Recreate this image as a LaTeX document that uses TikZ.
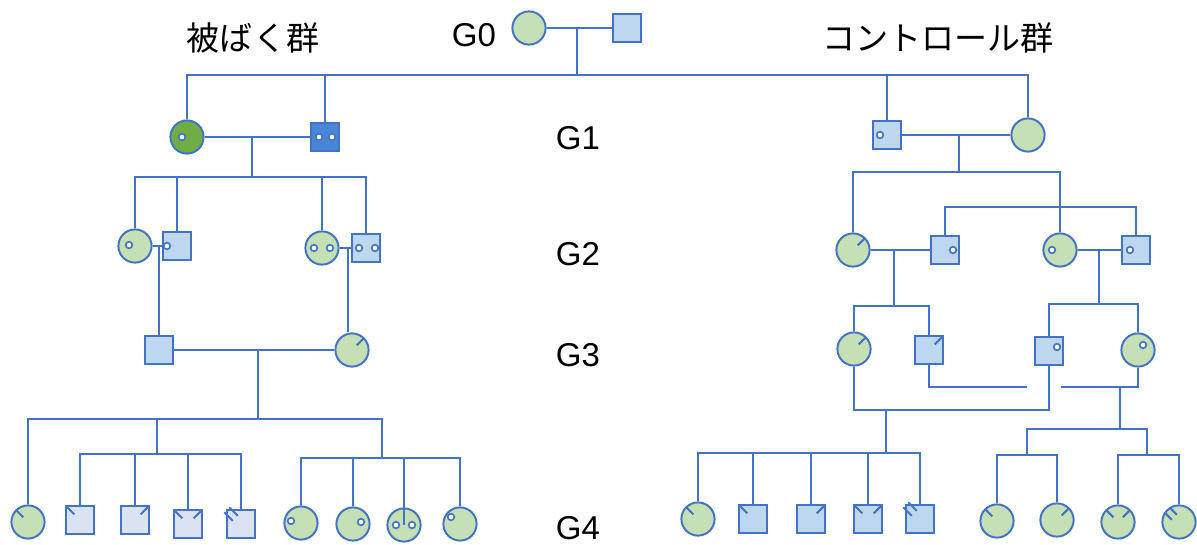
\documentclass[tikz,border=0pt]{standalone}
\usepackage{fontspec}
\setmainfont{Liberation Sans}
\newfontfamily\jpfont{Noto Sans CJK JP}
\usetikzlibrary{calc}

\definecolor{lineblue}{HTML}{4472C4}
\definecolor{ltgreen}{HTML}{C5E0B4}
\definecolor{dkgreen}{HTML}{70AD47}
\definecolor{ltblue}{HTML}{BDD7EE}
\definecolor{paleblue}{HTML}{DAE3F3}
\definecolor{midblue}{HTML}{4A86D8}

% short strokes inside a symbol
\newcommand{\slashL}[1]{\draw[stroke] ($(#1.center)!0.38!(#1.north west)$) -- ($(#1.center)!0.95!(#1.north west)$);}
\newcommand{\slashR}[1]{\draw[stroke] ($(#1.center)!0.38!(#1.north east)$) -- ($(#1.center)!0.95!(#1.north east)$);}
\newcommand{\slashLL}[1]{%
  \draw[stroke] ($(#1.center)!0.38!(#1.north west)+(2.5,-2.5)$) -- ($(#1.center)!0.95!(#1.north west)+(2.5,-2.5)$);
  \draw[stroke] ($(#1.center)!0.38!(#1.north west)+(-2.5,2.5)$) -- ($(#1.center)!0.95!(#1.north west)+(-2.5,2.5)$);}

\begin{document}
\begin{tikzpicture}[
  x = 0.025cm, y = -0.025cm,
  conn/.style = {draw=lineblue, line width=1.4pt},
  stroke/.style = {draw=lineblue, line width=1.5pt},
  fem/.style = {circle, draw=lineblue, fill=ltgreen, line width=1.4pt,
                minimum size=0.83cm, inner sep=0pt},
  mal/.style = {rectangle, draw=lineblue, fill=ltblue, line width=1.4pt,
                minimum size=0.7cm, inner sep=0pt},
  dotc/.style = {draw=lineblue, fill=white, line width=1.2pt},
  lbl/.style = {font=\fontsize{23.5}{28}\selectfont, inner sep=0pt},
  jp/.style = {font=\jpfont\fontsize{23.5}{28}\selectfont, inner sep=0pt},
]

\path[use as bounding box, fill=white] (0,0) rectangle (1197,545);

% labels
\node[jp]  (expo) at ( 253,  38) {被ばく群};
\node[jp]  (ctrl) at ( 938,  38) {コントロール群};
\node[lbl] (lg0)  at ( 474,  35) {G0};
\node[lbl] (lg1)  at ( 578, 138) {G1};
\node[lbl] (lg2)  at ( 578, 254) {G2};
\node[lbl] (lg3)  at ( 578, 355) {G3};
\node[lbl] (lg4)  at ( 578, 528) {G4};

% G0
\node[fem] (g0f) at (529, 28) {};
\node[mal] (g0m) at (627, 28) {};

% G1
\node[fem, fill=dkgreen] (a1f) at ( 187, 137) {};
\node[mal, fill=midblue] (a1m) at ( 325, 137) {};
\node[mal] (b1m) at ( 887, 135) {};
\node[fem] (b1f) at (1028, 135) {};

% G2
\node[fem] (a2f) at ( 135, 246) {};
\node[mal] (a2m) at ( 177, 246) {};
\node[fem] (a2g) at ( 322, 248) {};
\node[mal] (a2n) at ( 366, 248) {};
\node[fem] (b2f) at ( 853, 250) {};
\node[mal] (b2m) at ( 945, 250) {};
\node[fem] (b2g) at (1060, 250) {};
\node[mal] (b2n) at (1136, 250) {};

% G3
\node[mal] (a3m) at ( 159, 350) {};
\node[fem] (a3f) at ( 352, 350) {};
\node[fem] (b3f) at ( 854, 349) {};
\node[mal] (b3m) at ( 929, 350) {};
\node[mal] (b3n) at (1049, 351) {};
\node[fem] (b3g) at (1138, 350) {};

% G4
\node[fem] (a4f1) at (  28, 522) {};
\node[mal, fill=paleblue] (a4m1) at (  80, 520) {};
\node[mal, fill=paleblue] (a4m2) at ( 135, 520) {};
\node[mal, fill=paleblue] (a4m3) at ( 188, 524) {};
\node[mal, fill=paleblue] (a4m4) at ( 241, 524) {};
\node[fem] (a4f2) at ( 301, 523) {};
\node[fem] (a4f3) at ( 353, 524) {};
\node[fem] (a4f4) at ( 404, 525) {};
\node[fem] (a4f5) at ( 460, 524) {};
\node[fem] (b4f1) at ( 698, 519) {};
\node[mal] (b4m1) at ( 753, 519) {};
\node[mal] (b4m2) at ( 811, 519) {};
\node[mal] (b4m3) at ( 868, 519) {};
\node[mal] (b4m4) at ( 920, 519) {};
\node[fem] (b4f2) at ( 997, 521) {};
\node[fem] (b4f3) at (1057, 520) {};
\node[fem] (b4f4) at (1118, 522) {};
\node[fem] (b4f5) at (1179, 522) {};

% junctions
\coordinate (j0)  at ( 577,  28);
\coordinate (s1)  at ( 577,  75);
\coordinate (j1a) at ( 252, 137);
\coordinate (s2a) at ( 252, 177);
\coordinate (j1b) at ( 959, 135);
\coordinate (s2b) at ( 959, 172);
\coordinate (s2c) at ( 945, 207);
\coordinate (j2a) at ( 159, 246);
\coordinate (j2b) at ( 348, 248);
\coordinate (j2c) at ( 894, 250);
\coordinate (s3c) at ( 894, 306);
\coordinate (j2d) at (1099, 250);
\coordinate (s3d) at (1099, 304);
\coordinate (j3a) at ( 258, 350);
\coordinate (s4a) at ( 258, 419);
\coordinate (s4b) at ( 157, 454);
\coordinate (s4c) at ( 382, 458);
\coordinate (eg)  at ( 886, 410);
\coordinate (s4d) at ( 886, 453);
\coordinate (fh)  at (1120, 387);
\coordinate (s4e) at (1120, 429);
\coordinate (s4f) at (1027, 455);
\coordinate (s4g) at (1147, 455);

% marriages
\foreach \f/\m in {g0f/g0m, a1f/a1m, b1m/b1f, a2f/a2m, a2g/a2n,
                   b2f/b2m, b2g/b2n, a3m/a3f}
  \draw[conn] (\f) -- (\m);

% G0 -> G1
\draw[conn] (j0) -- (s1);
\draw[conn] (a1f.north) |- (b1f.north |- s1) -- (b1f.north);
\draw[conn] (a1m.north) -- (a1m.north |- s1);
\draw[conn] (b1m.north) -- (b1m.north |- s1);

% G1 -> G2
\draw[conn] (j1a) -- (s2a);
\draw[conn] (a2f.north) |- (a2n.north |- s2a) -- (a2n.north);
\foreach \c in {a2m, a2g}
  \draw[conn] (\c.north) -- (\c.north |- s2a);
\draw[conn] (j1b) -- (s2b);
\draw[conn] (b2f.north) |- (b2g.north |- s2b) -- (b2g.north);
\draw[conn] (b2m.north) |- (b2n.north |- s2c) -- (b2n.north);

% G2 -> G3
\draw[conn] (j2a) -- (a3m.north);
\draw[conn] (j2b) -- (j2b |- a3f.north);
\draw[conn] (j2c) -- (s3c);
\draw[conn] (b3f.north) |- (b3m.north |- s3c) -- (b3m.north);
\draw[conn] (j2d) -- (s3d);
\draw[conn] (b3n.north) |- (b3g.north |- s3d) -- (b3g.north);

% G3 couples on the control side
\draw[conn] (b3f.south) |- (b3n.south |- eg) -- (b3n.south);
\draw[conn] (b3m.south) |- ($(b3n.south |- fh)+(-22,0)$);
\draw[conn] ($(b3n.south |- fh)+(12,0)$) -| (b3g.south);

% G3 -> G4, exposed side
\draw[conn] (j3a) -- (s4a);
\draw[conn] (a4f1.north) |- (s4c |- s4a) -- (s4c);
\draw[conn] (s4b |- s4a) -- (s4b);
\draw[conn] (a4m1.north) |- (a4m4.north |- s4b) -- (a4m4.north);
\foreach \c in {a4m2, a4m3}
  \draw[conn] (\c.north) -- (\c.north |- s4b);
\draw[conn] (a4f2.north) |- (a4f5.north |- s4c) -- (a4f5.north);
\draw[conn] (a4f3.north) -- (a4f3.north |- s4c);
\draw[conn] (a4f4.center) -- (a4f4.center |- s4c);

% G3 -> G4, control side
\draw[conn] (eg) -- (s4d);
\draw[conn] (b4f1.north) |- (b4m4.north |- s4d) -- (b4m4.north);
\foreach \c in {b4m1, b4m2, b4m3}
  \draw[conn] (\c.north) -- (\c.north |- s4d);
\draw[conn] (fh) -- (s4e);
\draw[conn] (s4f) |- (s4g |- s4e) -- (s4g);
\draw[conn] (b4f2.north) |- (b4f3.north |- s4f) -- (b4f3.north);
\draw[conn] (b4f4.north) |- (b4f5.north |- s4g) -- (b4f5.north);

% dots
\foreach \p in {(182,137), (319,137), (332,137), (880,135),
                (129,245), (167,246), (314,248), (330,248), (359,248), (375,248),
                (953,250), (1052,250), (1130,250), (1057,347), (1143,345),
                (291,521), (361,522), (396,525), (412,525), (451,517)}
  \draw[dotc] \p circle (3.3);

% strokes
\foreach \n in {a4f1, a4m1, a4m3, b4f1, b4m1, b4m3, b4f2, b4f4}
  {\slashL{\n}}
\foreach \n in {a3f, b2f, b3f, b3m, a4m2, a4m3, b4m2, b4m3, b4f3, b4f4}
  {\slashR{\n}}
\foreach \n in {a4m4, b4m4, b4f5}
  {\slashLL{\n}}

\end{tikzpicture}
\end{document}
